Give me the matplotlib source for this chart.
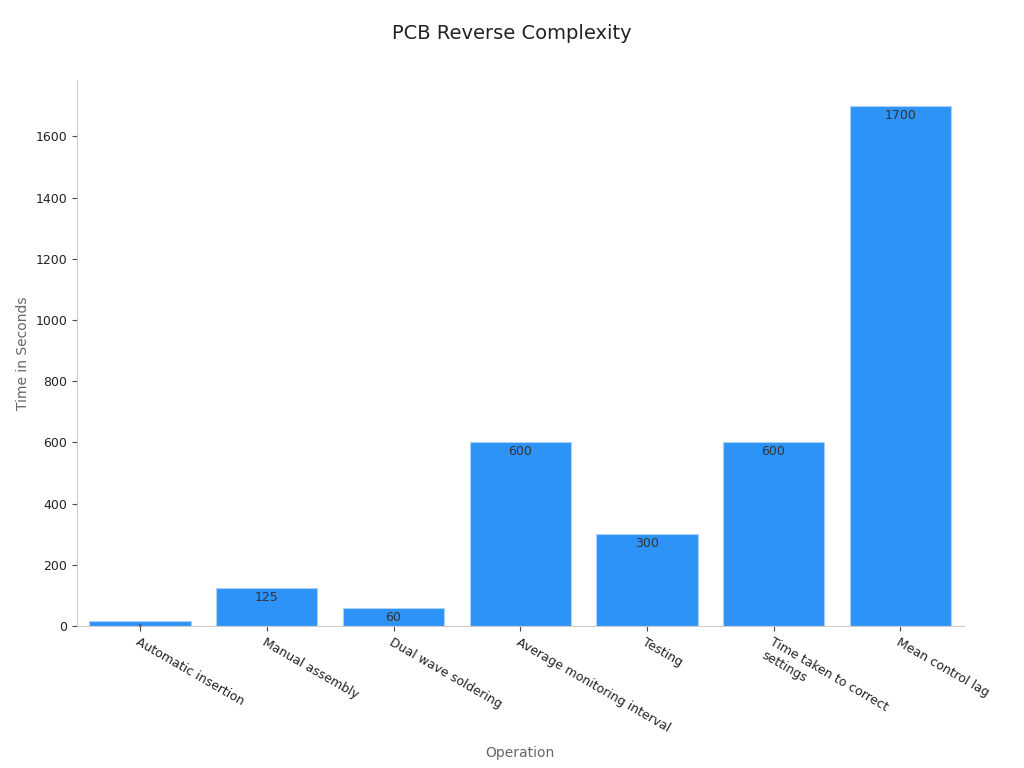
import matplotlib.pyplot as plt

operations = ["Automatic insertion", "Manual assembly", "Dual wave soldering",
              "Average monitoring interval", "Testing", "Time taken to correct\nsettings",
              "Mean control lag"]
times = [15, 125, 60, 600, 300, 600, 1700]
labels = ["15", "125", "60", "600", "300", "600", "1700"]

fig = plt.figure(figsize=(10.24, 7.68), dpi=100)
ax = fig.add_axes([0.075, 0.185, 0.866, 0.711])

bars = ax.bar(range(len(operations)), times, width=0.8, color="#2e93f7",
              edgecolor="#a8d0f8", linewidth=0.8)
for b, lab, v in zip(bars, labels, times):
    fs = 9 if v > 40 else 3
    ax.text(b.get_x() + b.get_width() / 2, v - 10, lab, ha="center", va="top",
            fontsize=fs, color="#333333")

ax.set_xlim(-0.5, 6.5)
ax.set_ylim(0, 1785)
ax.set_xticks(range(len(operations)))
ax.set_xticklabels(operations, rotation=-30, ha="left", rotation_mode="anchor", fontsize=9)
ax.set_yticks(range(0, 1601, 200))
ax.tick_params(axis="both", labelsize=9, color="#444444", labelcolor="#222222")
for s in ["top", "right"]:
    ax.spines[s].set_visible(False)
for s in ["left", "bottom"]:
    ax.spines[s].set_color("#cccccc")
ax.set_xlabel("Operation", fontsize=10, color="#666666", labelpad=8)
ax.set_ylabel("Time in Seconds", fontsize=10, color="#666666")
fig.text(0.5, 0.957, "PCB Reverse Complexity", ha="center", va="center",
         fontsize=14, color="#222222")

fig.savefig("out.png")
